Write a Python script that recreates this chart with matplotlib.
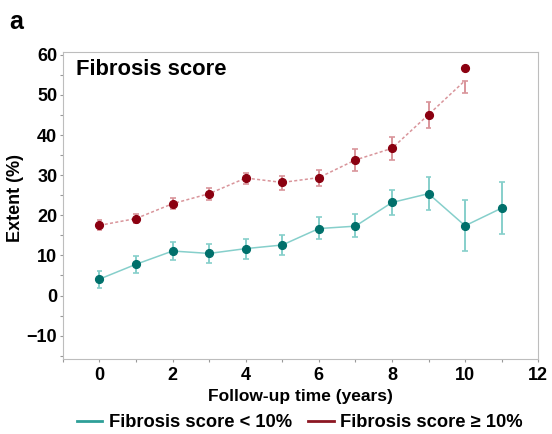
import matplotlib.pyplot as plt
from matplotlib.ticker import MultipleLocator

plt.rcParams['font.family'] = ['Liberation Sans', 'DejaVu Sans']

years = [0, 1, 2, 3, 4, 5, 6, 7, 8, 9, 10, 11]

# Fibrosis score < 10%
low_mean = [4.1, 7.8, 11.1, 10.5, 11.7, 12.6, 16.7, 17.3, 23.2, 25.4, 17.4, 21.8]
low_lo = [2.0, 5.5, 8.8, 8.2, 9.2, 10.0, 14.0, 14.5, 20.0, 21.4, 11.1, 15.4]
low_hi = [6.2, 9.9, 13.3, 12.8, 14.1, 15.2, 19.5, 20.3, 26.4, 29.5, 23.7, 28.3]

# Fibrosis score >= 10%
high_years = [0, 1, 2, 3, 4, 5, 6, 7, 8, 9, 10]
high_mean = [17.5, 19.2, 22.9, 25.4, 29.3, 28.2, 29.4, 33.8, 36.7, 45.1, 56.8]
high_line = [17.5, 19.2, 22.9, 25.4, 29.3, 28.2, 29.4, 33.8, 36.7, 45.1, 53.6]
high_lo = [16.3, 18.0, 21.7, 23.9, 27.7, 26.4, 27.4, 31.1, 33.7, 41.8, 50.5]
high_hi = [18.8, 20.4, 24.2, 26.8, 30.6, 29.9, 31.4, 36.5, 39.6, 48.2, 53.6]

teal_dark = '#00706b'
teal_light = '#86cfcb'
teal_legend = '#2e9f98'
red_dark = '#8b0010'
red_light = '#d9959b'
red_legend = '#8c1622'

fig = plt.figure(figsize=(5.52, 4.34), dpi=100)
ax = fig.add_axes([0.114, 0.173, 0.861, 0.707])

# teal series
ax.plot(years, low_mean, color=teal_light, lw=1.1, zorder=2)
ax.vlines(years, low_lo, low_hi, color=teal_light, lw=1.4, zorder=2)
ax.hlines(low_lo + low_hi, [x - 0.08 for x in years] * 2, [x + 0.08 for x in years] * 2,
          color=teal_light, lw=1.2, zorder=2)
ax.plot(years, low_mean, 'o', color=teal_dark, ms=5.6, zorder=3)

# red series
ax.plot(high_years, high_line, color=red_light, lw=1.1, ls=(0, (2, 1.5)), zorder=2)
ax.vlines(high_years, high_lo, high_hi, color=red_light, lw=1.4, zorder=2)
ax.hlines(high_lo + high_hi, [x - 0.08 for x in high_years] * 2, [x + 0.08 for x in high_years] * 2,
          color=red_light, lw=1.2, zorder=2)
ax.plot(high_years, high_mean, 'o', color=red_dark, ms=5.6, zorder=3)

ax.set_xlim(-1, 12)
ax.set_ylim(-15.8, 60.7)
ax.xaxis.set_major_locator(MultipleLocator(2))
ax.xaxis.set_minor_locator(MultipleLocator(1))
ax.yaxis.set_major_locator(MultipleLocator(10))
ax.yaxis.set_minor_locator(MultipleLocator(5))
ax.set_yticks(range(-10, 61, 10))

for s in ax.spines.values():
    s.set_color('#bdbdbd')
ax.tick_params(which='both', color='#999999', length=2.5, width=0.8)
ax.tick_params(which='major', labelsize=13)
ax.tick_params(axis='y', which='major', pad=1.5)
ax.tick_params(axis='x', which='major', pad=3)
for lab in ax.get_xticklabels() + ax.get_yticklabels():
    lab.set_fontweight('bold')

ax.set_xlabel('Follow-up time (years)', fontsize=12.5, fontweight='bold', labelpad=4)
ax.set_ylabel('Extent (%)', fontsize=13, fontweight='bold')
ax.yaxis.set_label_coords(-0.082, 0.524)
ax.text(0.027, 0.978, 'Fibrosis score', transform=ax.transAxes, fontsize=15.8,
        fontweight='bold', va='top', ha='left')

fig.text(0.016, 0.978, 'a', fontsize=18, fontweight='bold', va='top', ha='left')

h1, = ax.plot([], [], color=teal_legend, lw=2, label='Fibrosis score < 10%')
h2, = ax.plot([], [], color=red_legend, lw=2, label='Fibrosis score ≥ 10%')
fig.legend(handles=[h1, h2], loc='center', bbox_to_anchor=(0.543, 0.026), ncol=2,
           frameon=False, prop={'size': 13.2, 'weight': 'bold'}, handlelength=1.4,
           columnspacing=0.9, handletextpad=0.35, borderpad=0, borderaxespad=0)

fig.savefig('out.png', dpi=100)
